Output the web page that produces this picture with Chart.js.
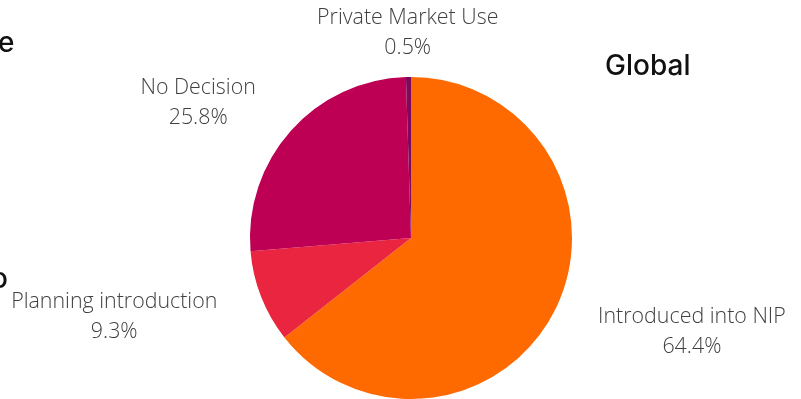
<!DOCTYPE html>
<html>
<head>
<meta charset="utf-8">
<script src="https://cdn.jsdelivr.net/npm/chart.js@4.4.1/dist/chart.umd.min.js"></script>
<style>
  html, body { margin: 0; padding: 0; background: #fff; overflow: hidden; }
  #wrap { position: relative; width: 801px; height: 399px; }
  #pieChart { position: absolute; left: 0; top: 0; }
  .head { position: absolute; font-family: Inter, "Open Sans", sans-serif; font-weight: 500; font-size: 28px; color: #111; white-space: nowrap; }
</style>
</head>
<body>
<div id="wrap">
  <canvas id="pieChart" width="801" height="399"></canvas>
  <div class="head" style="left:-2px; top:25px;">e</div>
  <div class="head" style="left:-9px; top:261px;">o</div>
  <div class="head" style="left:605px; top:48px;">Global</div>
</div>
<script>
// vaccine introduction status, share of countries (%)
var categories = ["Introduced into NIP", "Planning introduction", "No Decision", "Private Market Use"];
var shares = [64.4, 9.3, 25.8, 0.5];
var sliceColors = ["#ff6a00", "#e9253f", "#be0055", "#7e0a5e"];

// two-line labels placed outside each slice
var outsideLabels = {
    id: "outsideLabels",
    afterDatasetsDraw: function(chart) {
        var ctx = chart.ctx;
        var arcs = chart.getDatasetMeta(0).data;
        ctx.save();
        ctx.font = "300 21.4px 'Open Sans', sans-serif";
        ctx.fillStyle = "#404040";
        ctx.textBaseline = "middle";
        arcs.forEach(function(arc, i) {
            var p = arc.getProps(["x", "y", "startAngle", "endAngle", "outerRadius"], true);
            var mid = (p.startAngle + p.endAngle) / 2;
            var dx = Math.cos(mid), dy = Math.sin(mid);
            var r = p.outerRadius + 47;
            var ax = p.x + dx * r, ay = p.y + dy * r + 3;
            var lines = [categories[i], shares[i].toFixed(1) + "%"];
            var w = Math.max(ctx.measureText(lines[0]).width, ctx.measureText(lines[1]).width);
            var cx = ax;
            if (dx > 0.2) cx = ax + w / 2;
            else if (dx < -0.2) cx = ax - w / 2;
            ctx.textAlign = "center";
            ctx.fillText(lines[0], cx, ay - 15);
            ctx.fillText(lines[1], cx, ay + 15);
        });
        ctx.restore();
    }
};

var ctx = document.getElementById("pieChart").getContext("2d");
new Chart(ctx, {
    type: "pie",
    data: {
        labels: categories,
        datasets: [{
            data: shares,
            backgroundColor: sliceColors,
            borderWidth: 0
        }]
    },
    options: {
        responsive: false,
        animation: false,
        layout: { padding: { top: 77, bottom: 0, left: 100, right: 79 } },
        plugins: {
            legend: { display: false },
            tooltip: { enabled: false }
        }
    },
    plugins: [outsideLabels]
});
</script>
</body>
</html>
